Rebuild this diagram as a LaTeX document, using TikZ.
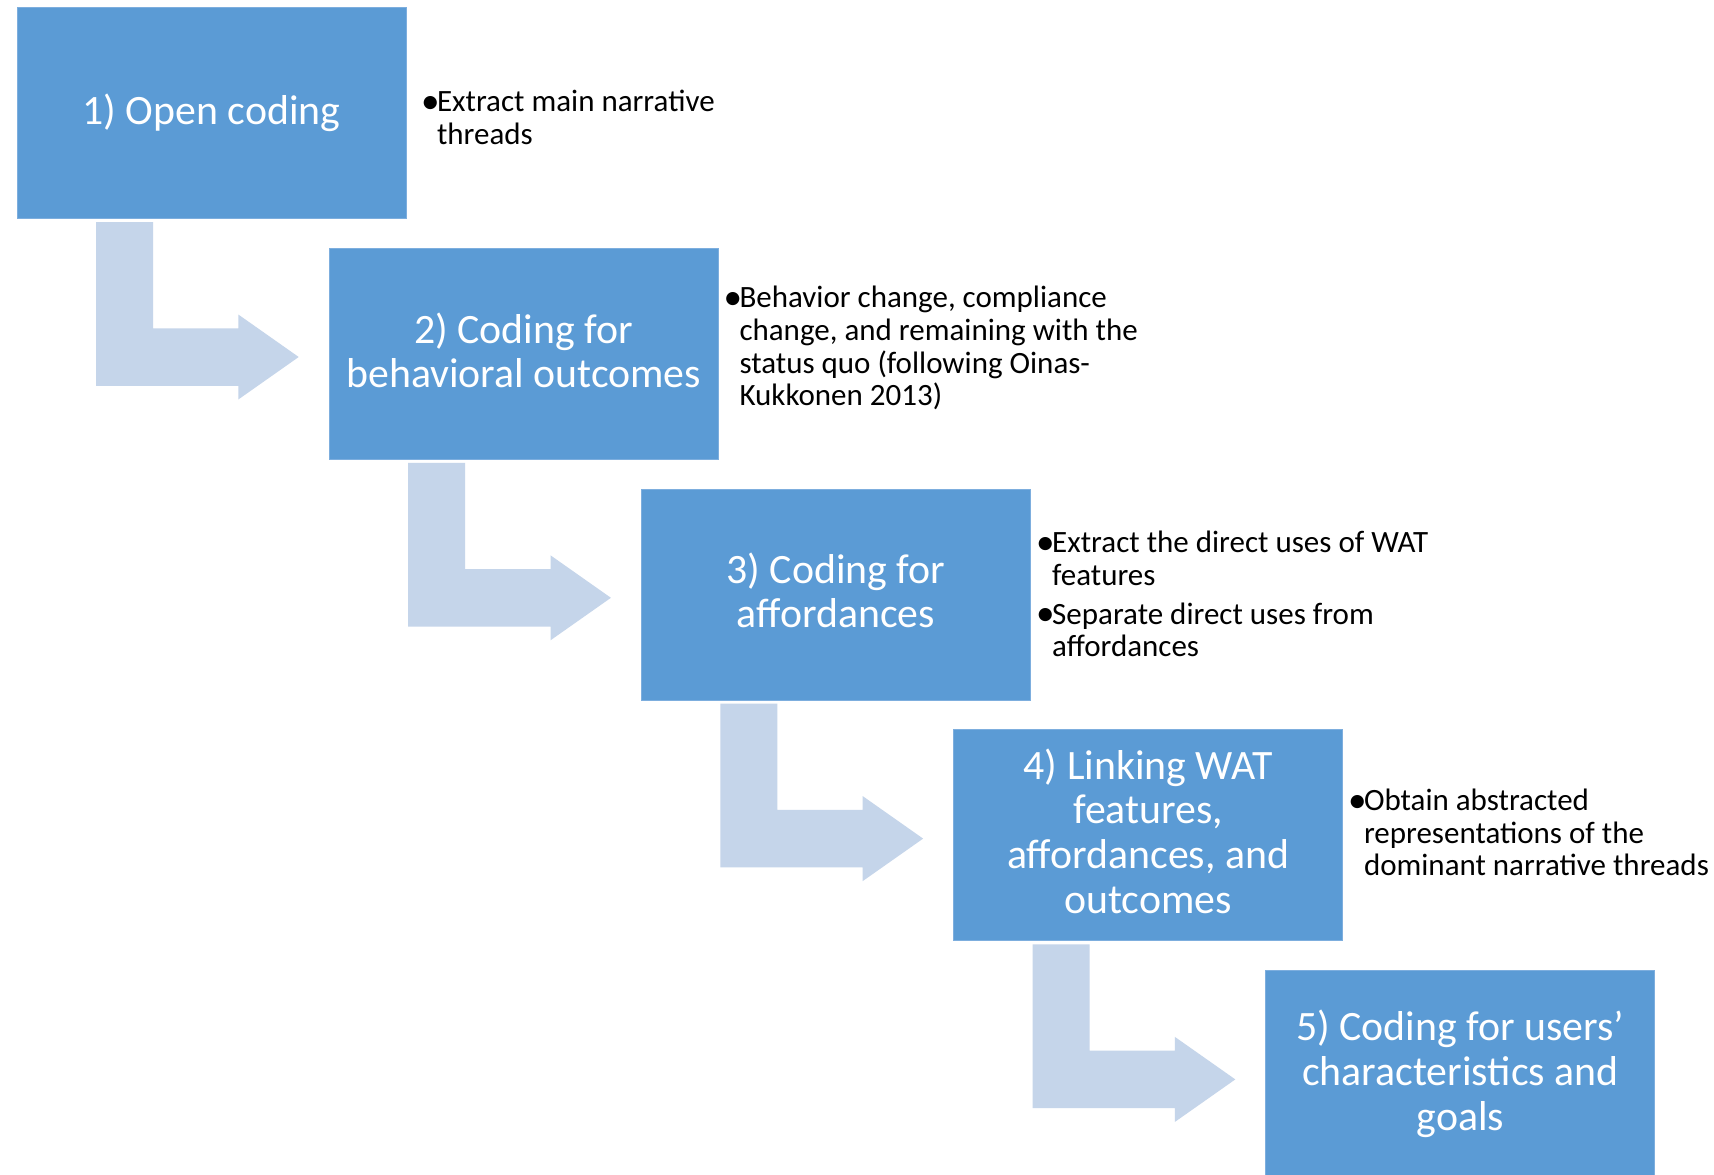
\documentclass[tikz,border=0pt]{standalone}
\usepackage{fontspec}
\usepackage{graphicx}
\setmainfont{Carlito}
\usetikzlibrary{calc}
\definecolor{boxblue}{HTML}{5B9BD5}
\definecolor{boxedge}{HTML}{7DAEDE}
\definecolor{arrowblue}{HTML}{C5D5EA}
\newcommand{\bigbullet}{\raisebox{-1.5pt}{\scalebox{1.2}{\textbullet}}}
\newcommand{\bulpar}[1]{\parbox[t]{420pt}{\hangindent=14pt\hangafter=1\noindent\makebox[14pt][l]{\hspace*{-2pt}\bigbullet}#1}}
\tikzset{
  stepbox/.style={rectangle, fill=boxblue, draw=boxedge, line width=1pt, outer sep=0pt,
    minimum width=389pt, minimum height=211pt, inner sep=0pt},
  boxtext/.style={inner sep=0pt, align=center, text=white,
    font=\fontsize{41.8}{44.8}\selectfont},
  bultext/.style={anchor=base west, inner sep=0pt, outer sep=0pt, text=black,
    font=\fontsize{31}{32.7}\selectfont},
  bentarrow/.style={fill=arrowblue, draw=none}
}
\begin{document}
\begin{tikzpicture}[x=1pt, y=-1pt]
\clip (0,0) rectangle (1714,1175);
\fill[white] (0,0) rectangle (1714,1175);
% step boxes
\node[stepbox] (b1) at (211.5,113) {};
\node[stepbox] (b2) at (523.7,353.8) {};
\node[stepbox] (b3) at (835.9,594.6) {};
\node[stepbox] (b4) at (1148.1,835.4) {};
\node[stepbox] (b5) at (1460.3,1076.2) {};
% box labels
\node[boxtext] (l1) at (b1.center) {1) Open coding};
\node[boxtext, yshift=3.5pt] (l2) at (b2.center) {2) Coding for\\behavioral outcomes};
\node[boxtext, yshift=4.3pt] (l3) at (b3.center) {3) Coding for\\affordances};
\node[boxtext, yshift=4.3pt] (l4) at (b4.center) {4) Linking WAT\\features,\\affordances, and\\outcomes};
\node[boxtext, yshift=2.2pt] (l5) at (b5.center) {5) Coding for users’\\characteristics and\\goals};
% bent arrows between the boxes
\foreach \i in {1,...,4} {
  \fill[bentarrow] ($(b\i.south west)+(79,3.5)$) -- ++(57,0) -- ++(0,106.25)
    -- ++(85.3,0) -- ++(0,-13.75) -- ++(60.4,42.5) -- ++(-60.4,42.5)
    -- ++(0,-13.75) -- ++(-142.3,0) -- cycle;
}
% bullet texts
\node[bultext] (t1) at (423,111.7) {\bulpar{Extract main narrative\\threads}};
\node[bultext] (t2) at (725.5,307.7) {\bulpar{Behavior change, compliance\\change, and remaining with the\\status quo (following Oinas-\\Kukkonen 2013)}};
\node[bultext] (t3a) at (1038.2,552.7) {\bulpar{Extract the direct uses of WAT\\features}};
\node[bultext] (t3b) at (1038.2,624) {\bulpar{Separate direct uses from\\affordances}};
\node[bultext] (t4) at (1350,810.5) {\bulpar{Obtain abstracted\\representations of the\\dominant narrative threads}};
\end{tikzpicture}
\end{document}
